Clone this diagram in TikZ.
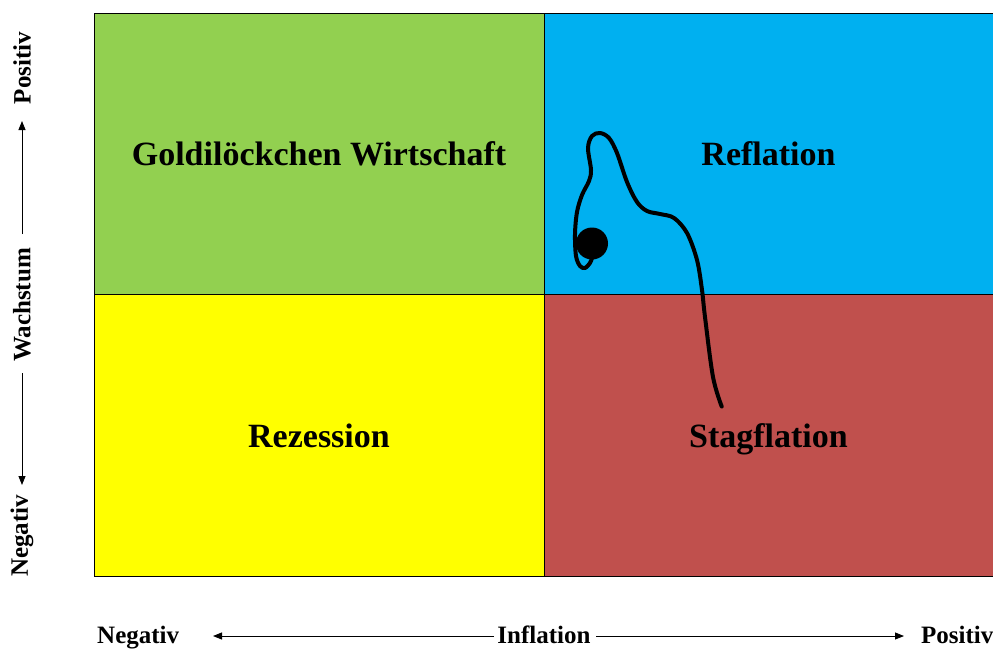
\documentclass[tikz,border=0pt]{standalone}
\usepackage{fontspec}
\setmainfont{Liberation Serif}
\usetikzlibrary{arrows.meta}
\definecolor{qgreen}{RGB}{146,208,80}
\definecolor{qblue}{RGB}{0,176,240}
\definecolor{qyellow}{RGB}{255,255,0}
\definecolor{qred}{RGB}{192,80,77}
\tikzset{
  quad/.style={draw=black, line width=0.9pt, minimum width=450pt, minimum height=282pt,
    inner sep=0pt, outer sep=0pt, text height=23pt, text depth=0pt,
    font=\fontsize{34}{40}\selectfont\bfseries},
  axlabel/.style={inner sep=0pt, font=\fontsize{25}{30}\selectfont\bfseries},
  axarrow/.style={line width=0.9pt, black, -{Triangle[length=9pt,width=7pt]}},
  trajectory/.style={line width=4pt, line cap=round, line join=round}
}
\begin{document}
\begin{tikzpicture}[x=1pt,y=-1pt]
\useasboundingbox (0,0) rectangle (993,648);
% quadrants
\node[quad, fill=qgreen] (gold) at (319,154) {Goldilöckchen Wirtschaft};
\node[quad, fill=qblue, minimum width=449pt] (refl) at (768.5,154) {Reflation};
\node[quad, fill=qyellow] (rez) at (319,435.5) {Rezession};
\node[quad, fill=qred, minimum width=449pt] (stag) at (768.5,435.5) {Stagflation};
% vertical axis
\node[axlabel, rotate=90] (wpos) at (22,68) {Positiv};
\node[axlabel, rotate=90] (wach) at (22,305) {Wachstum};
\node[axlabel, rotate=90] (wneg) at (22,536) {Negativ};
\coordinate (wtop) at (22,234);
\coordinate (wtip) at (22,121);
\coordinate (wbot) at (22,373);
\coordinate (wtipb) at (22,485);
\draw[axarrow] (wtop) -- (wtip);
\draw[axarrow] (wbot) -- (wtipb);
% horizontal axis
\node[axlabel, anchor=base west] (ineg) at (97,643) {Negativ};
\node[axlabel, anchor=base] (infl) at (544,643) {Inflation};
\node[axlabel, anchor=base west] (ipos) at (921,643) {Positiv};
\coordinate (ileft) at (494,636);
\coordinate (itipl) at (213,636);
\coordinate (iright) at (596,636);
\coordinate (itipr) at (904,636);
\draw[axarrow] (ileft) -- (itipl);
\draw[axarrow] (iright) -- (itipr);
% trajectory
\draw[trajectory] plot[smooth, tension=0.55] coordinates {
 (721.7,406.5) (713,377) (705,317) (702,290) (697,260) (687,233) (674,218)
 (660,214) (647,211) (637,202) (627,182) (617,153) (609,138) (600,133)
 (592,136) (588,148) (591,170) (589,181) (582,195) (577,212) (575,234)
 (576,256) (580,266) (585,268) (590,263) (592,258)};
\node[circle, fill=black, minimum size=32pt, inner sep=0pt] (ball) at (592,243.5) {};
\end{tikzpicture}
\end{document}
